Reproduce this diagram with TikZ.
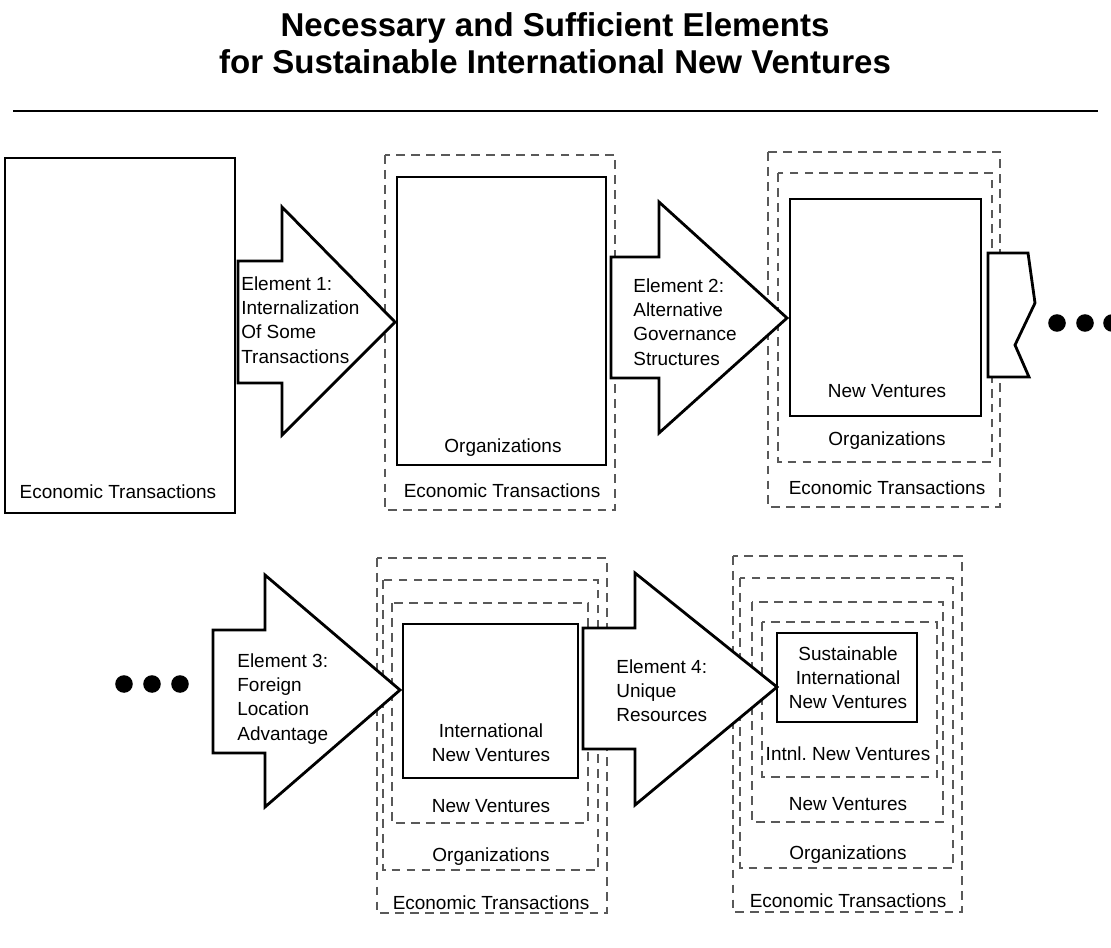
\documentclass[tikz,border=0pt]{standalone}
\usepackage{fontspec}
\setmainfont{Liberation Sans}
\usetikzlibrary{positioning}

\begin{document}
\begin{tikzpicture}[
    x=0.02cm, y=-0.02cm,
    solidbox/.style={draw, line width=1.6pt},
    dashbox/.style={draw=black!65, line width=0.6pt, dash pattern=on 5pt off 3.5pt},
    elemarrow/.style={draw, fill=white, line width=1.6pt, line join=miter},
    boxtext/.style={inner sep=0pt, anchor=base, font=\fontsize{10.8}{13.9}\selectfont},
    arrowtext/.style={inner sep=0pt, anchor=north west, align=left, font=\fontsize{10.8}{13.9}\selectfont},
    dot/.style={circle, fill=black, inner sep=0pt, minimum size=10pt}
]
\useasboundingbox (0,0) rectangle (1111,947);

% Title and rule
\node[anchor=north, align=center, inner sep=0pt, font=\bfseries\fontsize{18.8}{21}\selectfont] (title) at (555,12)
    {Necessary and Sufficient Elements\\for Sustainable International New Ventures};
\coordinate (ruleL) at (13,111);
\coordinate (ruleR) at (1098,111);
\draw[line width=1.5pt] (ruleL) -- (ruleR);

% Top row: boxes
\draw[solidbox] (5,158) rectangle (235,513);
\node[boxtext] (etA) at (118,498) {Economic Transactions};

\draw[dashbox] (385,155) rectangle (615,510);
\draw[solidbox] (397,177) rectangle (606,465);
\node[boxtext] (orgB) at (503,452) {Organizations};
\node[boxtext] (etB) at (502,497) {Economic Transactions};

\draw[dashbox] (768,152) rectangle (1000,507);
\draw[dashbox] (778,173) rectangle (992,462);
\draw[solidbox] (790,199) rectangle (981,416);
\node[boxtext] (nvC) at (887,397) {New Ventures};
\node[boxtext] (orgC) at (887,445) {Organizations};
\node[boxtext] (etC) at (887,494) {Economic Transactions};

% Top row: element arrows
\draw[elemarrow] (238,261) -- (282,261) -- (282,207) -- (395,322) -- (282,435) -- (282,383) -- (238,383) -- cycle;
\node[arrowtext] (elem1) at (241,276) {Element 1:\\Internalization\\Of Some\\Transactions};

\draw[elemarrow] (611,257) -- (659,257) -- (659,202) -- (787,318) -- (659,433) -- (659,378) -- (611,378) -- cycle;
\node[arrowtext] (elem2) at (633,278) {Element 2:\\Alternative\\Governance\\Structures};

% broken stub and dots
\draw[elemarrow] (988,253) -- (1028,253) -- (1035,303) -- (1015,345) -- (1029,377) -- (988,377) -- cycle;
\foreach \x [count=\i] in {1057,1085,1112}
    \node[dot] (dotA\i) at (\x,323) {};

% Bottom row: dots
\foreach \x [count=\i] in {124,152,180}
    \node[dot] (dotB\i) at (\x,684) {};

% Bottom row: boxes
\draw[dashbox] (377,558) rectangle (607,913);
\draw[dashbox] (383,580) rectangle (598,870);
\draw[dashbox] (392,603) rectangle (588,823);
\draw[solidbox] (403,624) rectangle (578,778);
\node[boxtext, anchor=north, align=center] (invD) at (491,723) {International\\New Ventures};
\node[boxtext] (nvD) at (491,812) {New Ventures};
\node[boxtext] (orgD) at (491,861) {Organizations};
\node[boxtext] (etD) at (491,909) {Economic Transactions};

\draw[dashbox] (733,556) rectangle (962,912);
\draw[dashbox] (740,578) rectangle (953,868);
\draw[dashbox] (752,602) rectangle (943,822);
\draw[dashbox] (762,622) rectangle (937,777);
\draw[solidbox] (777,633) rectangle (917,722);
\node[boxtext, anchor=north, align=center] (sinvE) at (848,646) {Sustainable\\International\\New Ventures};
\node[boxtext] (inE) at (848,760) {Intnl.\ New Ventures};
\node[boxtext] (nvE) at (848,810) {New Ventures};
\node[boxtext] (orgE) at (848,859) {Organizations};
\node[boxtext] (etE) at (848,907) {Economic Transactions};

% Bottom row: element arrows
\draw[elemarrow] (213,630) -- (265,630) -- (265,575) -- (400,690) -- (265,807) -- (265,753) -- (213,753) -- cycle;
\node[arrowtext] (elem3) at (237,653) {Element 3:\\Foreign\\Location\\Advantage};

\draw[elemarrow] (583,628) -- (635,628) -- (635,573) -- (777,687) -- (635,805) -- (635,749) -- (583,749) -- cycle;
\node[arrowtext] (elem4) at (616,659) {Element 4:\\Unique\\Resources};

\end{tikzpicture}
\end{document}
